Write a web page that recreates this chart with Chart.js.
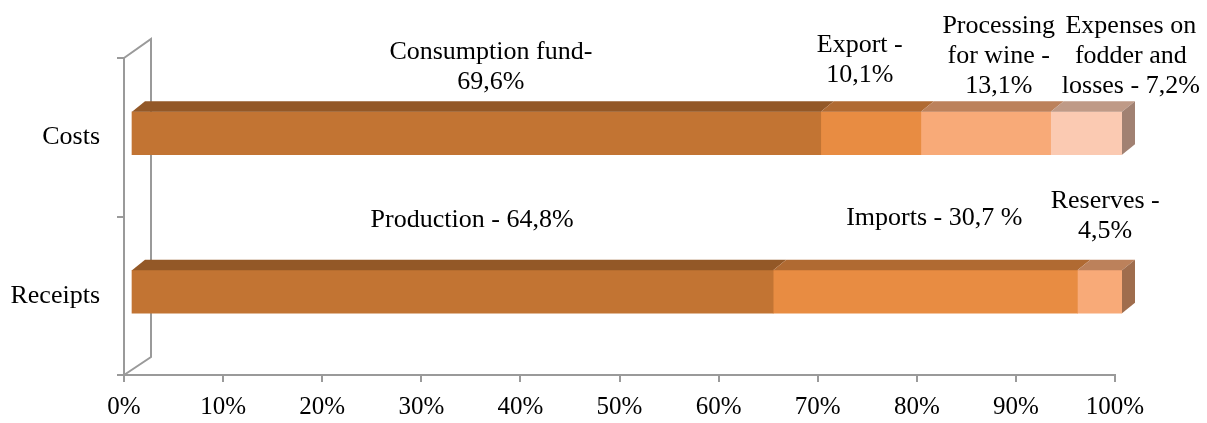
<!DOCTYPE html>
<html>
<head>
<meta charset="utf-8">
<script src="https://cdn.jsdelivr.net/npm/chart.js@4/dist/chart.umd.min.js"></script>
<style>
  body { margin: 0; background: #fff; }
  canvas { display: block; }
</style>
</head>
<body>
<canvas id="chart" width="1207" height="423"></canvas>
<script>
// datos
const categories = ['Costs', 'Receipts'];
const part1 = [69.6, 64.8];   // Consumption fund / Production
const part2 = [10.1, 30.7];   // Export / Imports
const part3 = [13.1, 4.5];    // Processing for wine / Reserves
const part4 = [7.2, 0];       // Expenses on fodder and losses
const xTicks = [0, 10, 20, 30, 40, 50, 60, 70, 80, 90, 100];

const costLabels = [
  ['Consumption fund-', '69,6%'],
  ['Export -', '10,1%'],
  ['Processing', 'for wine -', '13,1%'],
  ['Expenses on', 'fodder and', 'losses - 7,2%']
];
const receiptLabels = [
  ['Production - 64,8%'],
  ['Imports - 30,7 %'],
  ['Reserves -', '4,5%']
];

// layout of labels: [dx from segment centre, first baseline relative to bar top]
const costLabelPos = [[14.5, -53], [-11, -60], [13, -79], [44.5, -79]];
const receiptLabelPos = [[19.5, -43], [9, -45], [5.5, -62]];

const colors = ['#C27433', '#E88C42', '#F8AA78', '#FBCAB2'];
const FONT = "'Liberation Serif', 'Times New Roman', serif";
const AXIS = '#9a9a9a';
const SHIFT = { x: 7, y: -4 };       // bars sit a little behind the front plane
const BAR_DEPTH = { x: 13, y: -10.5 };
const WALL_DEPTH = { x: 27, y: -19 };

function shade(hex, f) {
  const n = parseInt(hex.slice(1), 16);
  const r = Math.round(((n >> 16) & 255) * f);
  const g = Math.round(((n >> 8) & 255) * f);
  const b = Math.round((n & 255) * f);
  return `rgb(${r},${g},${b})`;
}

const wall3d = {
  id: 'wall3d',
  beforeDatasetsDraw(chart) {
    const { ctx, chartArea: a } = chart;
    ctx.save();
    ctx.strokeStyle = AXIS;
    ctx.lineWidth = 2;
    ctx.beginPath();
    ctx.moveTo(a.left, a.top);
    ctx.lineTo(a.left + WALL_DEPTH.x, a.top + WALL_DEPTH.y);
    ctx.lineTo(a.left + WALL_DEPTH.x, a.bottom + WALL_DEPTH.y + 1);
    ctx.lineTo(a.left, a.bottom);
    ctx.stroke();
    ctx.restore();
    // shift the bars
    ctx.save();
    ctx.translate(SHIFT.x, SHIFT.y);
  },
  afterDatasetsDraw(chart) {
    const { ctx } = chart;
    const last = {};
    chart.data.datasets.forEach((ds, i) => {
      const meta = chart.getDatasetMeta(i);
      meta.data.forEach((el, j) => {
        if (!ds.data[j]) return;
        const x0 = el.base, x1 = el.x, top = el.y - el.height / 2;
        ctx.fillStyle = shade(ds.backgroundColor, 0.76);
        ctx.beginPath();
        ctx.moveTo(x0, top);
        ctx.lineTo(x1, top);
        ctx.lineTo(x1 + BAR_DEPTH.x, top + BAR_DEPTH.y);
        ctx.lineTo(x0 + BAR_DEPTH.x, top + BAR_DEPTH.y);
        ctx.closePath();
        ctx.fill();
        if (!last[j] || el.x > last[j].el.x) last[j] = { el, color: ds.backgroundColor };
      });
    });
    Object.values(last).forEach(({ el, color }) => {
      const top = el.y - el.height / 2, bottom = el.y + el.height / 2;
      ctx.fillStyle = shade(color, 0.64);
      ctx.beginPath();
      ctx.moveTo(el.x, top);
      ctx.lineTo(el.x + BAR_DEPTH.x, top + BAR_DEPTH.y);
      ctx.lineTo(el.x + BAR_DEPTH.x, bottom + BAR_DEPTH.y);
      ctx.lineTo(el.x, bottom);
      ctx.closePath();
      ctx.fill();
    });
    ctx.restore();
  }
};

const segLabels = {
  id: 'segLabels',
  afterDraw(chart) {
    const { ctx } = chart;
    ctx.save();
    ctx.font = `26px ${FONT}`;
    ctx.fillStyle = '#000';
    ctx.textAlign = 'center';
    ctx.textBaseline = 'alphabetic';
    [costLabels, receiptLabels].forEach((group, j) => {
      const pos = j === 0 ? costLabelPos : receiptLabelPos;
      group.forEach((lines, i) => {
        const el = chart.getDatasetMeta(i).data[j];
        const cx = (el.base + el.x) / 2 + SHIFT.x + pos[i][0];
        const top = el.y - el.height / 2 + SHIFT.y;
        lines.forEach((t, k) => ctx.fillText(t, cx, top + pos[i][1] + k * 30));
      });
    });
    ctx.restore();
  }
};

new Chart(document.getElementById('chart').getContext('2d'), {
  type: 'bar',
  data: {
    labels: categories,
    datasets: [part1, part2, part3, part4].map((data, i) => ({
      data,
      backgroundColor: colors[i],
      borderWidth: 0,
      barThickness: 43
    }))
  },
  options: {
    indexAxis: 'y',
    responsive: false,
    animation: false,
    layout: { padding: { top: 58, right: 92, bottom: 0, left: 0 } },
    plugins: { legend: { display: false }, tooltip: { enabled: false } },
    scales: {
      x: {
        stacked: true,
        min: 0,
        max: 100,
        afterBuildTicks: s => { s.ticks = xTicks.map(v => ({ value: v })); },
        afterFit: s => { s.height = 48; },
        ticks: {
          callback: v => v + '%',
          font: { family: FONT, size: 25 },
          color: '#000',
          padding: 10,
          maxRotation: 0
        },
        grid: { drawOnChartArea: false, tickLength: 7, color: AXIS, lineWidth: 2 },
        border: { color: AXIS, width: 2 }
      },
      y: {
        stacked: true,
        afterFit: s => { s.width = 124; },
        ticks: {
          font: { family: FONT, size: 26 },
          color: '#000',
          padding: 17
        },
        grid: { drawOnChartArea: false, tickLength: 7, color: AXIS, lineWidth: 2, offset: true },
        border: { color: AXIS, width: 2 }
      }
    }
  },
  plugins: [wall3d, segLabels]
});
</script>
</body>
</html>
